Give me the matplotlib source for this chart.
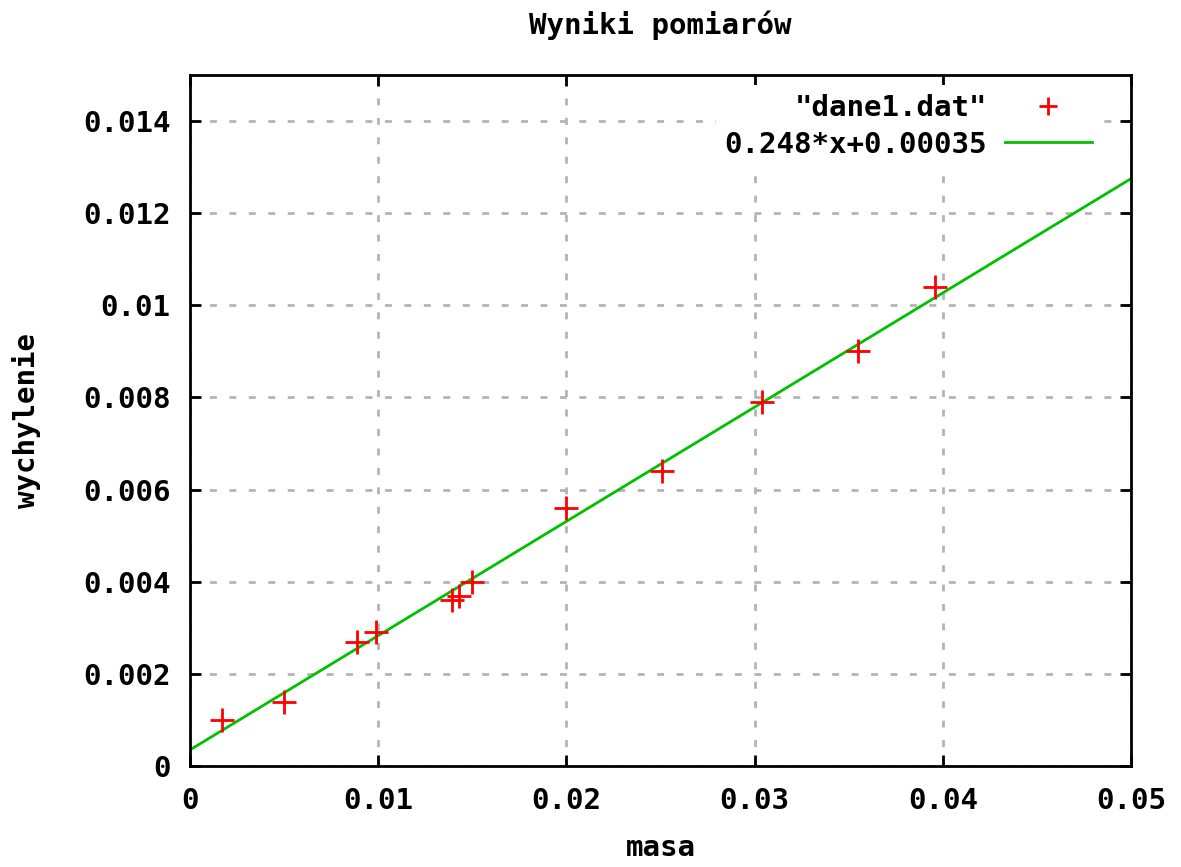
import numpy as np
import matplotlib
matplotlib.use("Agg")
import matplotlib.pyplot as plt

masa = [0.0017, 0.0050, 0.0089, 0.0099, 0.0139, 0.0143, 0.0150,
        0.0200, 0.0251, 0.0304, 0.0355, 0.0396]
wychylenie = [0.0010, 0.0014, 0.0027, 0.0029, 0.0036, 0.0037, 0.0040,
              0.0056, 0.0064, 0.0079, 0.0090, 0.0104]
slope = 0.248
intercept = 0.00035
xticks = [0, 0.01, 0.02, 0.03, 0.04, 0.05]
xticklabels = ["0", "0.01", "0.02", "0.03", "0.04", "0.05"]
yticks = [0, 0.002, 0.004, 0.006, 0.008, 0.010, 0.012, 0.014]
yticklabels = ["0", "0.002", "0.004", "0.006", "0.008", "0.01", "0.012", "0.014"]

font = {"family": "DejaVu Sans Mono", "weight": "bold", "size": 21}

fig = plt.figure(figsize=(11.81, 8.67), dpi=100)
ax = fig.add_axes([190/1181, 1-766/867, (1131-190)/1181, (766-75)/867])

ax.plot(masa, wychylenie, linestyle="none", marker="+", color="#ff0000",
        markersize=17, markeredgewidth=2, label='"dane1.dat"', zorder=3)
xl = np.linspace(0, 0.05, 200)
ax.plot(xl, slope*xl + intercept, color="#00c000", linewidth=2,
        label="0.248*x+0.00035", zorder=2)

ax.set_xlim(0, 0.05)
ax.set_ylim(0, 0.015)
ax.set_xticks(xticks)
ax.set_xticklabels(xticklabels, fontdict=font)
ax.set_yticks(yticks)
ax.set_yticklabels(yticklabels, fontdict=font)
ax.tick_params(direction="in", length=8, width=2, top=True, right=True)
ax.tick_params(axis="x", pad=15)
ax.tick_params(axis="y", pad=14)
ax.grid(True, color="#b4b4b4", linestyle=(0, (2.5, 4.5)), linewidth=2)
for s in ax.spines.values():
    s.set_linewidth(2)

ax.set_xlabel("masa", fontdict=font, labelpad=14)
ax.set_ylabel("wychylenie", fontdict=font, labelpad=30)
fig.suptitle("Wyniki pomiarów", x=660/1181, y=1-25/867, va="center", **font)

leg = ax.legend(loc="upper right", bbox_to_anchor=(0.968, 0.9855), frameon=True,
                facecolor="white", edgecolor="none", framealpha=1.0, fancybox=False,
                markerfirst=False,
                prop={"family": "DejaVu Sans Mono", "weight": "bold", "size": 21},
                handlelength=3.0, handletextpad=0.6, borderaxespad=0.0,
                borderpad=0.3, labelspacing=0.3)
leg.legend_handles[0].set_markersize(13)

fig.savefig("out.png", dpi=100)
